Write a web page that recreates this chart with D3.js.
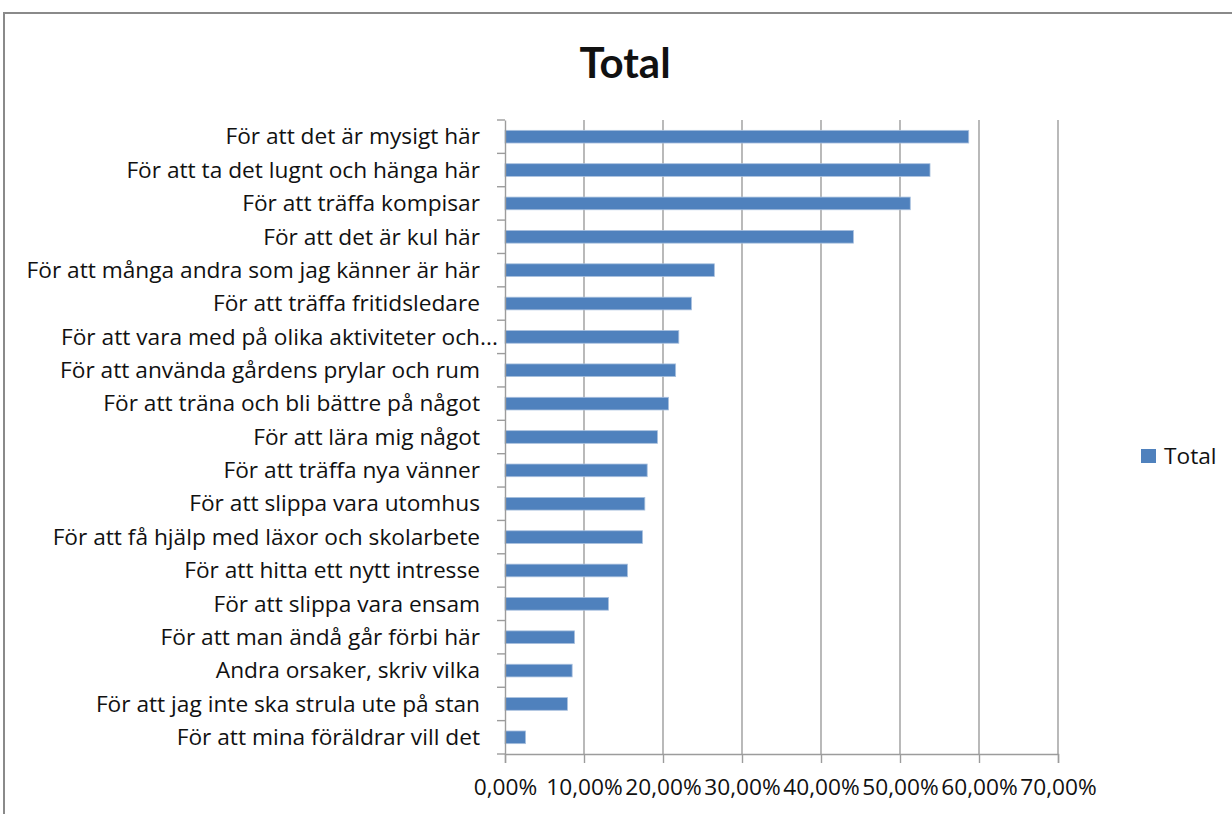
<!DOCTYPE html>
<html>
<head>
<meta charset="utf-8">
<script src="https://cdn.jsdelivr.net/npm/d3@7"></script>
<style>
  html, body { margin: 0; padding: 0; background: #fff; }
  svg { display: block; }
  text { font-family: "Open Sans", Lato, sans-serif; fill: #111; }
</style>
</head>
<body>
<svg id="chart" width="1232" height="814"></svg>
<script>
const categories = [
  "För att det är mysigt här",
  "För att ta det lugnt och hänga här",
  "För att träffa kompisar",
  "För att det är kul här",
  "För att många andra som jag känner är här",
  "För att träffa fritidsledare",
  "För att vara med på olika aktiviteter och...",
  "För att använda gårdens prylar och rum",
  "För att träna och bli bättre på något",
  "För att lära mig något",
  "För att träffa nya vänner",
  "För att slippa vara utomhus",
  "För att få hjälp med läxor och skolarbete",
  "För att hitta ett nytt intresse",
  "För att slippa vara ensam",
  "För att man ändå går förbi här",
  "Andra orsaker, skriv vilka",
  "För att jag inte ska strula ute på stan",
  "För att mina föräldrar vill det"
];
const values = [58.7, 53.8, 51.3, 44.1, 26.5, 23.6, 22.0, 21.6, 20.7, 19.3, 18.0, 17.7, 17.4, 15.5, 13.1, 8.8, 8.5, 7.9, 2.6];
const xTicks = [0, 10, 20, 30, 40, 50, 60, 70];
const seriesName = "Total";
const chartTitle = "Total";

const svg = d3.select("#chart");
const plot = { left: 505, right: 1058, top: 120, bottom: 754 };
const gridColor = "#9c9c9c";
const barColor = "#4F81BD";
const fs = "22.7px";

// outer frame
svg.append("rect")
  .attr("x", 4).attr("y", 13).attr("width", 1300).attr("height", 900)
  .attr("fill", "none").attr("stroke", "#8a8a8a").attr("stroke-width", 2);

const x = d3.scaleLinear().domain([0, 70]).range([plot.left, plot.right]);
const y = d3.scaleBand().domain(categories).range([plot.top, plot.bottom]).paddingInner(0.62).paddingOuter(0.31);

// gridlines
svg.append("g").selectAll("line").data(xTicks.slice(1)).join("line")
  .attr("x1", d => x(d)).attr("x2", d => x(d))
  .attr("y1", plot.top).attr("y2", plot.bottom)
  .attr("stroke", gridColor).attr("stroke-width", 1.4);

// bars
svg.append("g").selectAll("rect").data(categories).join("rect")
  .attr("x", x(0))
  .attr("y", d => y(d))
  .attr("width", (d, i) => x(values[i]) - x(0))
  .attr("height", y.bandwidth())
  .attr("fill", barColor)
  .attr("stroke", "#a9c0de").attr("stroke-width", 0.8);

// x axis
const xAxis = svg.append("g").attr("transform", `translate(0,${plot.bottom})`)
  .call(d3.axisBottom(x).tickValues(xTicks).tickSize(9).tickPadding(16)
    .tickFormat(d => d3.format(".2f")(d).replace(".", ",") + "%"));
xAxis.select(".domain").attr("stroke", gridColor).attr("stroke-width", 1.4);
xAxis.selectAll(".tick line").attr("stroke", gridColor).attr("stroke-width", 1.4);
xAxis.selectAll(".tick text").style("font-size", fs).attr("fill", "#111");

// y axis
const yAxis = svg.append("g").attr("transform", `translate(${plot.left},0)`)
  .call(d3.axisLeft(y).tickSize(0).tickPadding(25));
yAxis.select(".domain").attr("stroke", gridColor).attr("stroke-width", 1.4);
yAxis.selectAll(".tick text").style("font-size", fs).attr("fill", "#111").attr("dy", "0.34em");
// category boundary ticks
const bounds = d3.range(categories.length + 1).map(i => plot.top + i * (plot.bottom - plot.top) / categories.length);
yAxis.append("g").selectAll("line").data(bounds).join("line")
  .attr("x1", -8).attr("x2", 0).attr("y1", d => d).attr("y2", d => d)
  .attr("stroke", gridColor).attr("stroke-width", 1.4);
// truncated labels: ellipsis overflows past the anchor
yAxis.selectAll(".tick text").each(function(d) {
  if (d.endsWith("...")) {
    const t = d3.select(this);
    t.text(d.slice(0, -3));
    d3.select(this.parentNode).append("text")
      .attr("x", -25).attr("dy", "0.34em").attr("text-anchor", "start")
      .style("font-size", fs).attr("fill", "#111").text("...");
  }
});

// title
svg.append("text").attr("x", 625).attr("y", 78).attr("text-anchor", "middle")
  .style("font-family", "Lato, sans-serif")
  .style("font-size", "42px").style("font-weight", "bold").attr("fill", "#000").text(chartTitle);

// legend
const lg = svg.append("g").attr("transform", "translate(1141,449)");
lg.append("rect").attr("width", 15).attr("height", 14).attr("fill", barColor);
lg.append("text").attr("x", 23).attr("y", 7).attr("dy", "0.35em").style("font-size", fs).text(seriesName);
</script>
</body>
</html>
